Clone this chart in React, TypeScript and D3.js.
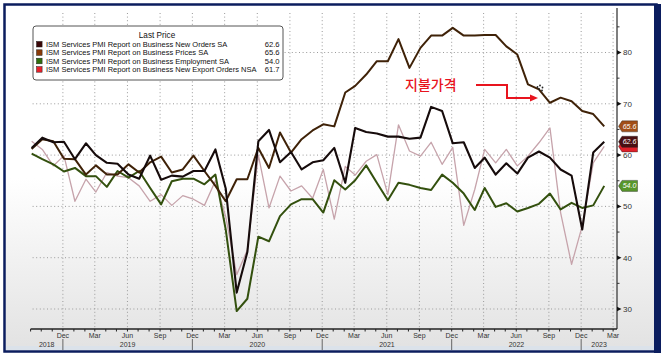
import React from "react";
import * as d3 from "d3";

const startMonth = new Date(2018, 8, 1);
const endMonth = new Date(2023, 1, 1);

const newOrders = [61.4, 63.4, 62.5, 62.6, 59.2, 62.3, 60.0, 58.5, 58.3, 56.2, 55.4, 59.9, 55.2, 56.0, 55.8, 56.9, 56.9, 61.1, 53.5, 33.2, 41.1, 62.7, 64.9, 58.6, 60.6, 57.2, 58.6, 59.0, 61.4, 54.6, 65.3, 64.5, 64.2, 63.6, 63.6, 63.2, 63.4, 69.4, 68.6, 62.3, 62.5, 57.5, 59.5, 56.2, 58.4, 56.4, 59.5, 60.7, 59.5, 57.2, 56.0, 45.5, 60.5, 62.6];
const prices = [61.2, 63.1, 62.7, 59.3, 59.2, 56.2, 58.0, 56.2, 56.2, 58.2, 56.6, 58.6, 59.7, 56.6, 57.2, 59.9, 56.9, 54.0, 51.0, 55.3, 55.3, 61.4, 57.5, 64.4, 60.5, 63.1, 64.8, 66.0, 65.6, 72.2, 73.5, 75.7, 78.3, 78.3, 82.6, 77.0, 80.9, 83.3, 83.3, 84.8, 83.3, 83.3, 83.4, 83.4, 81.2, 79.6, 73.8, 72.8, 70.2, 71.2, 70.5, 68.6, 68.0, 65.6];
const employment = [60.3, 59.2, 58.2, 56.8, 57.5, 55.9, 55.9, 53.8, 56.9, 55.6, 56.9, 53.6, 50.4, 54.9, 55.4, 55.4, 54.3, 56.2, 45.5, 29.6, 32.0, 44.1, 43.2, 48.1, 50.4, 51.4, 51.4, 48.8, 55.1, 53.3, 55.1, 58.0, 54.6, 51.2, 54.6, 54.2, 53.6, 53.2, 56.2, 54.6, 52.5, 49.3, 53.6, 49.9, 50.6, 49.0, 49.7, 50.5, 52.5, 49.4, 50.7, 49.7, 50.2, 54.0];
const exportOrders = [62.7, 61.1, 57.9, 59.9, 51.0, 55.3, 52.8, 56.6, 55.9, 55.6, 54.0, 51.0, 52.3, 50.2, 52.1, 51.4, 50.2, 55.0, 48.0, 36.7, 41.5, 60.0, 49.7, 55.9, 53.0, 54.0, 51.6, 57.2, 47.5, 57.8, 56.1, 58.8, 60.1, 52.3, 65.9, 60.8, 59.8, 62.5, 58.2, 61.5, 46.3, 53.3, 61.1, 58.5, 61.1, 57.9, 59.8, 62.4, 65.3, 48.8, 38.7, 46.2, 58.5, 61.7];

const seriesNames = [
  "ISM Services PMI Report on Business New Orders SA",
  "ISM Services PMI Report on Business Prices SA",
  "ISM Services PMI Report on Business Employment SA",
  "ISM Services PMI Report on Business New Export Orders NSA",
];
const lastLabels = ["62.6", "65.6", "54.0", "61.7"];
const yTicks = [30, 40, 50, 60, 70, 80];
const yMinorTicks = [35, 45, 55, 65, 75, 85];
const yearLabels = ["2018", "2019", "2020", "2021", "2022", "2023"];
const annotationText = "지불가격";

const W = 665;
const H = 356;
const LEFT = 30.6;
const RIGHT = 617;
const TOP = 8;
const BOTTOM = 329;

const lineColors = ["#160b0b", "#3f2208", "#33500e", "#c6a3ab"];
const lineWidths = [2.1, 2.0, 2.0, 1.3];
const swatchColors = ["#3a0606", "#8a3a08", "#2f6e0c", "#e8202a"];
const tagColors = ["#4a0f12", "#a24e17", "#58962a", "#e0202a"];

export default function App() {
  const dates = d3.timeMonth.range(startMonth, d3.timeMonth.offset(endMonth, 1));
  const x = d3
    .scaleTime()
    .domain([new Date(2018, 8, 1), new Date(2023, 2, 12)])
    .range([LEFT, RIGHT]);
  const y = d3.scaleLinear().domain([30, 80]).range([309, 52.5]);

  const px = (i: number) => x(d3.timeDay.offset(dates[i], 3));
  const line = d3
    .line<number>()
    .x((_, i) => px(i))
    .y((v) => y(v));

  const allSeries = [newOrders, prices, employment, exportOrders];
  const drawOrder = [3, 2, 1, 0];

  const allMonths = d3.timeMonth.range(startMonth, new Date(2023, 2, 2));
  const quarterMonths = allMonths.filter(
    (d) => [2, 5, 8, 11].includes(d.getMonth()) && x(d) > 40
  );
  const decMonths = allMonths.filter((d) => d.getMonth() === 11);
  const bounds = [LEFT, ...decMonths.map((d) => x(d)), RIGHT];
  const fmt = d3.timeFormat("%b");

  const font = "'Liberation Sans', Arial, sans-serif";

  const tag = (v: number, color: string, label: string | null, key: string) => {
    const cy = y(v);
    const x0 = 618.5;
    const x1 = 637.5;
    return (
      <g key={key}>
        <path
          d={`M${x0},${cy} L${x0 + 3.5},${cy - 5.5} L${x1},${cy - 5.5} L${x1},${cy + 5.5} L${x0 + 3.5},${cy + 5.5} Z`}
          fill={color}
          stroke="#222"
          strokeWidth={0.4}
        />
        {label && (
          <text
            x={(x0 + x1) / 2 + 1.5}
            y={cy + 2.6}
            fontSize={7}
            fontStyle="italic"
            fill="#fff"
            textAnchor="middle"
            fontFamily={font}
          >
            {label}
          </text>
        )}
      </g>
    );
  };

  return (
    <svg
      width={W}
      height={H}
      style={{ position: "absolute", left: 0, top: 0, display: "block" }}
    >
      <defs>
        <linearGradient id="bg" x1="0" y1="0" x2="0" y2="1">
          <stop offset="0" stopColor="#ffffff" />
          <stop offset="0.5" stopColor="#ffffff" />
          <stop offset="1" stopColor="#e2e2e2" />
        </linearGradient>
      </defs>
      <rect x={0} y={0} width={W} height={H} fill="#ffffff" />
      <rect x={6} y={6} width={648} height={344} fill="url(#bg)" />
      <rect x={6} y={346} width={648} height={4} fill="#dbe2ea" />

      {/* horizontal grid */}
      {yTicks.map((t) => (
        <line
          key={"hg" + t}
          x1={LEFT + 2}
          x2={RIGHT - 2}
          y1={y(t)}
          y2={y(t)}
          stroke="#9a9a9a"
          strokeWidth={1}
          strokeDasharray="1 2.6"
        />
      ))}
      {/* vertical grid */}
      {quarterMonths.map((d, i) => (
        <line
          key={"vg" + i}
          x1={x(d)}
          x2={x(d)}
          y1={13}
          y2={BOTTOM}
          stroke="#9a9a9a"
          strokeWidth={1}
          strokeDasharray="1 2.6"
        />
      ))}

      {/* series */}
      {drawOrder.map((k) => (
        <path
          key={"s" + k}
          d={line(allSeries[k]) || ""}
          fill="none"
          stroke={lineColors[k]}
          strokeWidth={lineWidths[k]}
          strokeLinejoin="round"
        />
      ))}

      {/* legend */}
      <rect x={33} y={26} width={250} height={54} rx={3} fill="#fff" stroke="#555" strokeWidth={1} />
      <text x={157} y={37.5} fontSize={8.2} textAnchor="middle" fontFamily={font} fill="#111">
        Last Price
      </text>
      {seriesNames.map((n, i) => {
        const cy = 44.2 + i * 8.4;
        return (
          <g key={"lg" + i}>
            <rect x={36.5} y={cy - 2.8} width={5.6} height={5.6} fill={swatchColors[i]} stroke="#222" strokeWidth={0.5} />
            <text x={46} y={cy + 2.7} fontSize={7.5} fontFamily={font} fill="#111">
              {n}
            </text>
            <text x={279.5} y={cy + 2.7} fontSize={7.6} fontFamily={font} fill="#111" textAnchor="end">
              {lastLabels[i]}
            </text>
          </g>
        );
      })}

      {/* right axis */}
      <line x1={RIGHT} x2={RIGHT} y1={TOP} y2={BOTTOM} stroke="#555" strokeWidth={1.5} />
      {yTicks.map((t) => (
        <g key={"yt" + t}>
          <path d={`M${RIGHT},${y(t) - 2.2} L${RIGHT + 4.5},${y(t)} L${RIGHT},${y(t) + 2.2} Z`} fill="#111" />
          <text x={RIGHT + 6} y={y(t) + 2.8} fontSize={8} fontFamily={font} fill="#333">
            {t}
          </text>
        </g>
      ))}
      {yMinorTicks.map((t) => (
        <line key={"ym" + t} x1={RIGHT} x2={RIGHT + 2.5} y1={y(t)} y2={y(t)} stroke="#333" strokeWidth={1} />
      ))}

      {/* last value tags (export tag sits behind the new-orders tag) */}
      {tag(exportOrders[exportOrders.length - 1], tagColors[3], null, "t3")}
      {tag(newOrders[newOrders.length - 1], tagColors[0], lastLabels[0], "t0")}
      {tag(prices[prices.length - 1], tagColors[1], lastLabels[1], "t1")}
      {tag(employment[employment.length - 1], tagColors[2], lastLabels[2], "t2")}

      {/* bottom axis */}
      <line x1={LEFT} x2={RIGHT} y1={BOTTOM} y2={BOTTOM} stroke="#222" strokeWidth={1.6} />
      {allMonths.map((d, i) => (
        <line key={"mt" + i} x1={x(d)} x2={x(d)} y1={BOTTOM} y2={BOTTOM + 2.5} stroke="#222" strokeWidth={1} />
      ))}
      {quarterMonths.map((d, i) => (
        <text key={"ql" + i} x={x(d)} y={BOTTOM + 8.5} fontSize={7} textAnchor="middle" fontFamily={font} fill="#333">
          {fmt(d)}
        </text>
      ))}
      {decMonths.map((d, i) => (
        <line key={"ys" + i} x1={x(d)} x2={x(d)} y1={BOTTOM + 10} y2={350} stroke="#666" strokeWidth={1} />
      ))}
      {yearLabels.map((yl, i) => (
        <text
          key={"yl" + i}
          x={(bounds[i] + bounds[i + 1]) / 2}
          y={BOTTOM + 17.5}
          fontSize={7}
          textAnchor="middle"
          fontFamily={font}
          fill="#333"
        >
          {yl}
        </text>
      ))}

      {/* annotation */}
      <text x={405} y={90} fontSize={14} fontFamily="'Noto Sans CJK KR', sans-serif" fill="#e8141e" fontWeight={500}>
        {annotationText}
      </text>
      <path d="M476,85 H507 V98 H531" fill="none" stroke="#e8141e" strokeWidth={2} />
      <path d="M538,98 L530,94.5 L530,101.5 Z" fill="#e8141e" />
      {[
        [540, 85.5],
        [542.5, 87.5],
        [539, 89],
        [542, 90.5],
        [537.5, 87],
      ].map((p, i) => (
        <circle key={"cur" + i} cx={p[0]} cy={p[1]} r={0.9} fill="#222" />
      ))}

      {/* frame */}
      <rect x={4.5} y={4.5} width={652} height={347} fill="none" stroke="#0b1d5e" strokeWidth={2.5} />
      <rect x={654} y={4} width={7} height={349} fill="#0b1d5e" />
    </svg>
  );
}
